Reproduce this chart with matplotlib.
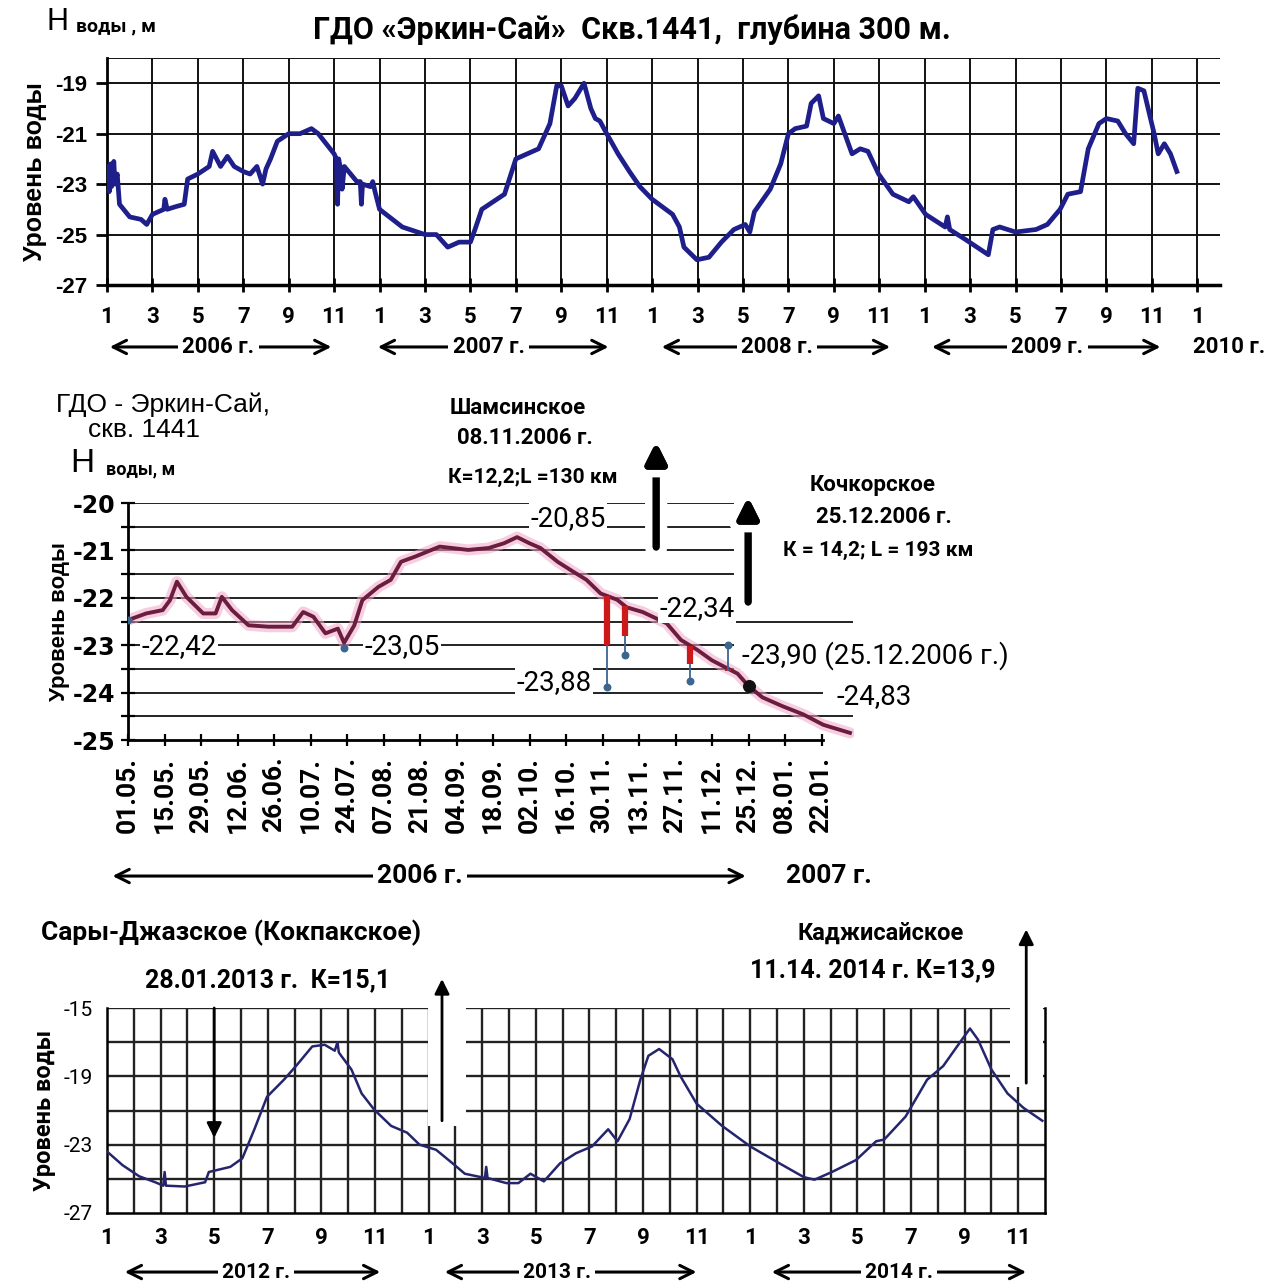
import matplotlib
matplotlib.use("Agg")
import matplotlib.pyplot as plt
import matplotlib.patheffects as pe
from matplotlib.patches import Rectangle
import numpy as np

W, H = 1283, 1287
plt.rcParams['font.family'] = ['Roboto', 'DejaVu Sans']
ARIAL = ['Liberation Sans', 'DejaVu Sans']

# ---------- panel 1: monthly axis, months since Jan 2006 ----------
t1 = [0, 0.05, 0.1, 0.15, 0.2, 0.3, 0.35, 0.45, 0.55, 1.0, 1.5, 1.75, 2.0, 2.5,
      2.55, 2.65, 3.0, 3.4, 3.55, 4.0, 4.5, 4.65, 5.0, 5.3, 5.6, 6.0, 6.3, 6.6,
      6.85, 7.0, 7.2, 7.5, 8.0, 8.5, 9.0, 9.3, 10.0, 10.1, 10.15, 10.2, 10.3,
      10.35, 10.45, 11.0, 11.15, 11.2, 11.25, 11.6, 11.7, 11.8, 12.0, 13.0,
      14.0, 14.5, 15.0, 15.5, 16.0, 16.2, 16.5, 17.0, 17.5, 18.0, 18.5, 19.0,
      19.5, 19.8, 20.0, 20.3, 20.6, 21.0, 21.3, 21.5, 21.7, 22.0, 22.5, 23.0,
      23.46, 24.0, 24.9, 25.2, 25.4, 25.97, 26.5, 27.05, 27.6, 28.1, 28.3,
      28.5, 29.2, 29.66, 30.0, 30.3, 30.8, 31.0, 31.33, 31.54, 32.0, 32.2,
      32.44, 32.8, 33.16, 33.5, 33.97, 34.6, 35.3, 35.5, 36.04, 36.9, 37.0,
      37.1, 37.8, 38.8, 39.0, 39.3, 40.0, 40.9, 41.4, 41.96, 42.3, 42.86,
      43.2, 43.67, 44.0, 44.5, 44.84, 45.2, 45.38, 45.65, 46.1, 46.28, 46.55,
      46.82, 47.1]
h1 = [-23.0, -22.3, -23.3, -22.2, -23.1, -22.1, -23.0, -22.6, -23.8, -24.3,
      -24.4, -24.6, -24.2, -24.0, -23.6, -24.0, -23.9, -23.8, -22.8, -22.6,
      -22.3, -21.7, -22.3, -21.9, -22.3, -22.5, -22.6, -22.3, -23.0, -22.4,
      -22.0, -21.3, -21.0, -21.0, -20.8, -21.0, -21.8, -22.0, -23.8, -22.0,
      -22.5, -23.2, -22.3, -22.9, -22.9, -23.8, -23.0, -23.1, -22.9, -23.3,
      -24.0, -24.7, -25.0, -25.0, -25.5, -25.3, -25.3, -24.8, -24.0, -23.7,
      -23.4, -22.0, -21.8, -21.6, -20.6, -19.1, -19.1, -19.9, -19.6, -19.0,
      -20.0, -20.4, -20.5, -21.0, -21.8, -22.5, -23.1, -23.6, -24.2, -24.7,
      -25.5, -26.0, -25.9, -25.3, -24.8, -24.6, -24.9, -24.1, -23.2, -22.2,
      -21.0, -20.8, -20.7, -19.8, -19.5, -20.4, -20.6, -20.3, -20.9, -21.8,
      -21.6, -21.7, -22.6, -23.4, -23.7, -23.5, -24.2, -24.7, -24.3, -24.8,
      -25.2, -25.8, -24.8, -24.7, -24.9, -24.8, -24.6, -24.0, -23.4, -23.3,
      -21.6, -20.6, -20.4, -20.5, -21.0, -21.4, -19.2, -19.3, -21.0, -21.8,
      -21.4, -21.8, -22.5]
month_labels1 = [str(m) for m in [1, 3, 5, 7, 9, 11] * 4 + [1]]
years1 = ['2006 г.', '2007 г.', '2008 г.', '2009 г.']
years1_from = [0.0, 11.8, 24.3, 36.2]
years1_to = [10.0, 22.2, 34.6, 46.5]
years1_mid = [4.9, 16.8, 29.5, 41.4]

# ---------- panel 2: 14-day steps from 01.05.2006 ----------
i2 = [0, 0.5, 0.95, 1.15, 1.34, 1.6, 2.06, 2.4, 2.57, 2.85, 3.3, 3.85, 4.5,
      4.8, 5.08, 5.41, 5.75, 5.92, 6.2, 6.42, 6.86, 7.2, 7.48, 7.87, 8.54,
      9.32, 9.88, 10.3, 10.66, 11.0, 11.3, 11.77, 12.2, 12.56, 12.95, 13.4,
      13.66, 14.1, 14.76, 15.15, 15.6, 16.0, 16.7, 17.0, 17.38, 17.94, 18.5,
      19.05, 19.78]
h2 = [-22.47, -22.33, -22.26, -22.05, -21.66, -21.98, -22.33, -22.33, -21.98,
      -22.26, -22.58, -22.61, -22.61, -22.3, -22.4, -22.75, -22.65, -22.95,
      -22.58, -22.05, -21.77, -21.62, -21.24, -21.13, -20.92, -20.99, -20.95,
      -20.85, -20.72, -20.85, -20.95, -21.24, -21.45, -21.62, -21.91, -22.04,
      -22.2, -22.3, -22.54, -22.89, -23.1, -23.32, -23.6, -23.86, -24.1,
      -24.29, -24.46, -24.68, -24.85]
spike_i = [13.12, 13.62, 15.4, 16.45]
spike_red = [-23.0, -22.8, -23.4, -23.55]
spike_dot = [-23.88, -23.2, -23.75, -23.0]
mark_i = [0, 5.92]
mark_h = [-22.47, -23.05]
date_labels = ['01.05.', '15.05.', '29.05.', '12.06.', '26.06.', '10.07.',
               '24.07.', '07.08.', '21.08.', '04.09.', '18.09.', '02.10.',
               '16.10.', '30.11.', '13.11.', '27.11.', '11.12.', '25.12.',
               '08.01.', '22.01.']
grid2_levels = [-20, -20.5, -21, -21.5, -22, -22.5, -23, -23.5, -24, -24.5]
grid2_ends = [16.6, 16.6, 16.6, 16.6, 16.6, 19.85, 16.6, 16.6, 19.05, 19.85]

# ---------- panel 3: months since Jan 2012 ----------
m3 = [0, 0.58, 1.2, 1.8, 2.1, 2.15, 2.2, 2.9, 3.66, 3.8, 4.6, 5.05, 5.5,
      5.97, 6.6, 7.05, 7.66, 8.12, 8.5, 8.6, 8.65, 8.74, 9.12, 9.5, 9.97,
      10.6, 11.2, 11.66, 12.28, 12.9, 13.35, 14.1, 14.15, 14.2, 14.9, 15.35,
      15.8, 16.3, 16.9, 17.5, 18.1, 18.7, 19.05, 19.5, 19.9, 20.2, 20.6,
      21.1, 21.4, 22.0, 22.95, 24.0, 25.1, 26.0, 26.4, 27.05, 27.95, 28.7,
      29.0, 29.8, 30.6, 31.2, 31.9, 32.2, 32.5, 33.0, 33.6, 34.2, 34.9]
h3 = [-23.4, -24.2, -24.85, -25.2, -25.4, -24.6, -25.4, -25.45, -25.2, -24.6,
      -24.3, -23.8, -22.1, -20.2, -19.2, -18.4, -17.25, -17.15, -17.5, -17.0,
      -17.6, -17.8, -18.6, -20.0, -20.95, -21.9, -22.3, -23.0, -23.3, -24.1,
      -24.7, -24.95, -24.3, -24.95, -25.25, -25.25, -24.7, -25.15, -24.1,
      -23.5, -23.1, -22.1, -22.8, -21.5, -19.2, -17.8, -17.4, -18.0, -19.0,
      -20.6, -21.9, -23.1, -24.1, -24.9, -25.05, -24.6, -23.9, -22.8, -22.7,
      -21.35, -19.2, -18.4, -16.85, -16.2, -16.85, -18.6, -20.0, -20.85, -21.6]
month_labels3 = [str(m) for m in [1, 3, 5, 7, 9, 11] * 3]
years3 = ['2012 г.', '2013 г.', '2014 г.']
years3_from = [0.56, 12.5, 24.7]
years3_to = [10.3, 22.1, 34.4]
years3_mid = [5.56, 16.8, 29.55]


def fx(x):
    return x / W


def fy(y):
    return 1 - y / H


def axes_px(fig, x0, y0, x1, y1):
    return fig.add_axes([fx(x0), fy(y1), (x1 - x0) / W, (y1 - y0) / H])


def ftext(x, y, s, **kw):
    kw.setdefault('ha', 'center')
    kw.setdefault('va', 'center')
    fig.text(fx(x), fy(y), s, **kw)


def year_row(ax, starts, ends, mids, labels, yfrac, size):
    for a, b, c, lab in zip(starts, ends, mids, labels):
        ax.annotate('', xy=(b, yfrac), xytext=(a, yfrac),
                    xycoords=('data', 'axes fraction'),
                    arrowprops=dict(arrowstyle='<->', lw=2.2, color='k',
                                    mutation_scale=24),
                    annotation_clip=False)
        ax.text(c, yfrac, lab, transform=ax.get_xaxis_transform(),
                ha='center', va='center', fontsize=size, fontweight='bold',
                bbox=dict(facecolor='white', edgecolor='none', pad=3),
                clip_on=False, zorder=5)


fig = plt.figure(figsize=(W / 100, H / 100), dpi=100)

# ================= panel 1 =================
ax1 = axes_px(fig, 107, 58, 1220, 285)
ax1.set_xlim(0, 49)
ax1.set_ylim(-27, -18)
for s in ['top', 'right']:
    ax1.spines[s].set_visible(False)
ax1.spines['left'].set_linewidth(2)
ax1.spines['bottom'].set_linewidth(2.5)
for y in [-18, -19, -21, -23, -25]:
    ax1.axhline(y, color='#111111', lw=1.4, zorder=1)
for x in np.arange(2, 49, 2):
    ax1.axvline(x, color='#111111', lw=1.4, zorder=1)
ax1.plot(t1, h1, color='#1f1f8c', lw=3.4, solid_joinstyle='round', zorder=3)
ax1.set_yticks([-19, -21, -23, -25, -27])
ax1.set_yticklabels(['-19', '-21', '-23', '-25', '-27'], family=ARIAL,
                    fontsize=16, fontweight='bold')
ax1.set_xticks(np.arange(0, 49, 2))
ax1.set_xticklabels(month_labels1, fontsize=16, fontweight='bold')
ax1.tick_params(axis='x', direction='inout', length=10, width=2, pad=10)
ax1.tick_params(axis='y', direction='out', length=8, width=2, pad=6)
ax1.set_ylabel('Уровень воды', family=ARIAL, fontsize=18, fontweight='bold',
               labelpad=6)
year_row(ax1, years1_from, years1_to, years1_mid, years1, -0.273, 16)
ax1.text(49.4, -0.273, '2010 г.', transform=ax1.get_xaxis_transform(),
         ha='center', va='center', fontsize=16, fontweight='bold', clip_on=False)

ftext(57, 22, 'Н', fontsize=22, family=ARIAL)
ftext(76, 26, 'воды , м', fontsize=14, fontweight='bold', ha='left')
ftext(632, 30, 'ГДО «Эркин-Сай»  Скв.1441,  глубина 300 м.', fontsize=22,
      fontweight='bold')

# ================= panel 2 =================
ax2 = axes_px(fig, 128, 503, 128 + 19.9 * 36.5, 740)
ax2.set_xlim(0, 19.9)
ax2.set_ylim(-25, -20)
for s in ['top', 'right']:
    ax2.spines[s].set_visible(False)
ax2.spines['left'].set_linewidth(2)
ax2.spines['bottom'].set_linewidth(2)
ax2.spines['bottom'].set_bounds(0, 19.05)
ax2.hlines(grid2_levels, 0, grid2_ends, color='#111111', lw=1.3, zorder=1)
ax2.plot(i2, h2, color='#f2a6c8', lw=8, alpha=0.55, zorder=2,
         solid_capstyle='round')
ax2.plot(i2, h2, color='#6b1d40', lw=2.8, zorder=3, solid_joinstyle='round')
spike_top = np.interp(spike_i, i2, h2)
ax2.vlines(spike_i, spike_top, spike_red, color='#cc1a1a', lw=4.5, zorder=4)
ax2.vlines(spike_i, spike_red, spike_dot, color='#3b6690', lw=1.3, zorder=4)
ax2.scatter(spike_i, spike_dot, s=22, color='#3b6690', zorder=5)
ax2.scatter(mark_i, mark_h, s=22, color='#3b6690', zorder=5)
ax2.scatter([17.0], [-23.86], s=70, color='#111111', zorder=5)

ax2.set_yticks([-20, -21, -22, -23, -24, -25])
ax2.set_yticklabels(['-20', '-21', '-22', '-23', '-24', '-25'],
                    fontsize=17, fontweight='bold', family=['DejaVu Sans'])
ax2.set_yticks(np.arange(-24.5, -20, 1.0), minor=True)
ax2.tick_params(axis='y', which='both', direction='inout', length=10,
                width=1.6, pad=4)
ax2.set_xticks(np.arange(len(date_labels)))
ax2.set_xticklabels(date_labels, rotation=90, fontsize=19, fontweight='bold')
ax2.tick_params(axis='x', direction='inout', length=8, width=1.6, pad=8)
ax2.set_ylabel('Уровень воды', family=ARIAL, fontsize=16, fontweight='bold',
               labelpad=2)

val_style = dict(fontsize=20, va='center', zorder=6,
                 bbox=dict(facecolor='white', edgecolor='none', pad=1))
ax2.text(1.41, -23.03, '-22,42', ha='center', **val_style)
ax2.text(7.5, -23.03, '-23,05', ha='center', **val_style)
ax2.text(12.06, -20.32, '-20,85', ha='center', **val_style)
ax2.text(11.67, -23.78, '-23,88', ha='center', **val_style)
ax2.text(15.6, -22.22, '-22,34', ha='center', **val_style)
ax2.text(16.82, -23.21, '-23,90 (25.12.2006 г.)', ha='left', clip_on=False,
         **val_style)
ax2.text(19.4, -24.09, '-24,83', ha='left', clip_on=False, **val_style)

for xa, y0, y1 in [(14.47, -20.93, -18.71), (16.99, -22.09, -19.87)]:
    ann = ax2.annotate('', xy=(xa, y1), xytext=(xa, y0),
                       arrowprops=dict(arrowstyle='-|>', lw=5, color='k',
                                       mutation_scale=30, shrinkA=0,
                                       shrinkB=0),
                       annotation_clip=False, zorder=6)
    ann.arrow_patch.set_path_effects([pe.withStroke(linewidth=16,
                                                    foreground='white'),
                                      pe.Normal()])

year_row(ax2, [-0.5], [17.0], [8.0], ['2006 г.'], -0.574, 19)
ax2.text(19.2, -0.574, '2007 г.', transform=ax2.get_xaxis_transform(),
         ha='center', va='center', fontsize=19, fontweight='bold', clip_on=False)

ftext(163, 405, 'ГДО - Эркин-Сай,', family=ARIAL, fontsize=19)
ftext(144, 430, 'скв. 1441', family=ARIAL, fontsize=19)
ftext(82, 464, 'Н', family=ARIAL, fontsize=24)
ftext(106, 469, 'воды, м', fontsize=13, fontweight='bold', ha='left')
ftext(518, 408, 'Шамсинское', fontsize=16, fontweight='bold')
ftext(525, 438, '08.11.2006 г.', fontsize=16, fontweight='bold')
ftext(533, 477, 'К=12,2;L =130 км', fontsize=15, fontweight='bold')
ftext(873, 485, 'Кочкорское', fontsize=16, fontweight='bold')
ftext(884, 517, '25.12.2006 г.', fontsize=16, fontweight='bold')
ftext(878, 550, 'К = 14,2; L = 193 км', fontsize=15, fontweight='bold')

# ================= panel 3 =================
ax3 = axes_px(fig, 107, 1008, 107 + 35 * 26.8, 1213)
ax3.set_xlim(0, 35)
ax3.set_ylim(-27, -15)
ax3.spines['top'].set_visible(False)
for s in ['left', 'right', 'bottom']:
    ax3.spines[s].set_linewidth(1.8)
for y in np.arange(-25, -14, 2):
    ax3.axhline(y, color='#222222', lw=1.7, zorder=1)
for x in np.arange(1, 35):
    ax3.axvline(x, color='#222222', lw=1.7, zorder=1)
ax3.add_patch(Rectangle((11.97, -21.9), 1.43, 7.0, facecolor='white',
                        edgecolor='none', zorder=1.5, clip_on=False))
ax3.add_patch(Rectangle((33.7, -19.6), 1.22, 5.0, facecolor='white',
                        edgecolor='none', zorder=1.5, clip_on=False))
ax3.plot(m3, h3, color='#25256e', lw=1.8, zorder=3)
ax3.set_yticks([-15, -19, -23, -27])
ax3.set_yticklabels(['-15', '-19', '-23', '-27'], fontsize=15)
ax3.set_xticks(np.arange(0, 35, 2))
ax3.set_xticklabels(month_labels3, fontsize=16, fontweight='bold')
ax3.tick_params(axis='both', length=0, pad=10)
ax3.set_ylabel('Уровень воды', fontsize=17, fontweight='bold', labelpad=6)

arr = dict(arrowstyle='-|>', lw=2, color='k', mutation_scale=22,
           shrinkA=0, shrinkB=0)
ax3.annotate('', xy=(4.0, -22.6), xytext=(4.0, -15), arrowprops=arr,
             annotation_clip=False, zorder=4)
ax3.annotate('', xy=(12.5, -13.3), xytext=(12.5, -21.6), arrowprops=arr,
             annotation_clip=False, zorder=4)
ax3.annotate('', xy=(34.3, -10.4), xytext=(34.3, -19.4), arrowprops=arr,
             annotation_clip=False, zorder=4)
year_row(ax3, years3_from, years3_to, years3_mid, years3, -0.288, 15)

ftext(231, 933, 'Сары-Джазское (Кокпакское)', fontsize=19, fontweight='bold')
ftext(268, 980, '28.01.2013 г.  К=15,1', fontsize=18, fontweight='bold')
ftext(881, 933, 'Каджисайское', fontsize=17, fontweight='bold')
ftext(873, 970, '11.14. 2014 г. К=13,9', fontsize=18, fontweight='bold')

fig.savefig('out.png', dpi=100, facecolor='white')
